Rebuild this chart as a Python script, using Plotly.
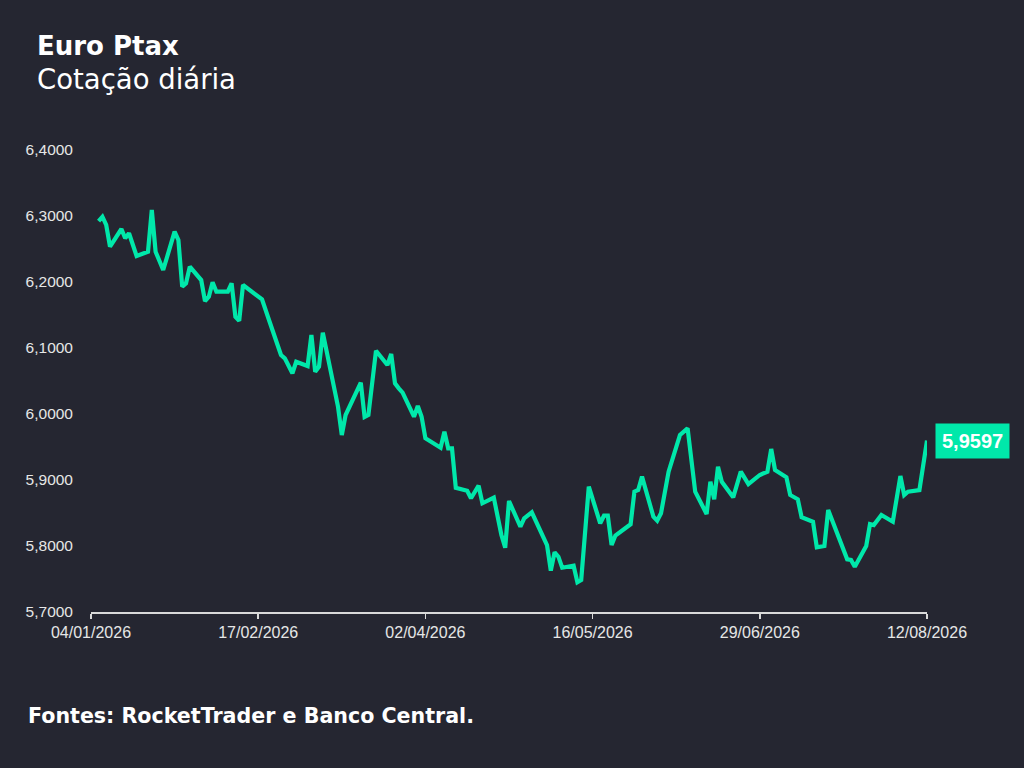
import plotly.graph_objects as go

dates = [
    "2026-01-06", "2026-01-07", "2026-01-08", "2026-01-09", "2026-01-12", "2026-01-13",
    "2026-01-14", "2026-01-16", "2026-01-19", "2026-01-20", "2026-01-21", "2026-01-23",
    "2026-01-26", "2026-01-27", "2026-01-28", "2026-01-29", "2026-01-30", "2026-02-02",
    "2026-02-03", "2026-02-04", "2026-02-05", "2026-02-06", "2026-02-09", "2026-02-10",
    "2026-02-11", "2026-02-12", "2026-02-13", "2026-02-18", "2026-02-20", "2026-02-23",
    "2026-02-24", "2026-02-26", "2026-02-27", "2026-03-02", "2026-03-03", "2026-03-04",
    "2026-03-05", "2026-03-06", "2026-03-10", "2026-03-11", "2026-03-12", "2026-03-16",
    "2026-03-17", "2026-03-18", "2026-03-20", "2026-03-23", "2026-03-24", "2026-03-25",
    "2026-03-26", "2026-03-27", "2026-03-30", "2026-03-31", "2026-04-01", "2026-04-02",
    "2026-04-06", "2026-04-07", "2026-04-08", "2026-04-09", "2026-04-10", "2026-04-13",
    "2026-04-14", "2026-04-16", "2026-04-17", "2026-04-20", "2026-04-22", "2026-04-23",
    "2026-04-24", "2026-04-27", "2026-04-28", "2026-04-30", "2026-05-04", "2026-05-05",
    "2026-05-06", "2026-05-07", "2026-05-08", "2026-05-11", "2026-05-12", "2026-05-13",
    "2026-05-15", "2026-05-18", "2026-05-19", "2026-05-20", "2026-05-21", "2026-05-22",
    "2026-05-26", "2026-05-27", "2026-05-28", "2026-05-29", "2026-06-01", "2026-06-02",
    "2026-06-03", "2026-06-05", "2026-06-08", "2026-06-10", "2026-06-12", "2026-06-15",
    "2026-06-16", "2026-06-17", "2026-06-18", "2026-06-19", "2026-06-22", "2026-06-24",
    "2026-06-26", "2026-06-29", "2026-07-01", "2026-07-02", "2026-07-03", "2026-07-06",
    "2026-07-07", "2026-07-09", "2026-07-10", "2026-07-13", "2026-07-14", "2026-07-16",
    "2026-07-17", "2026-07-22", "2026-07-23", "2026-07-24", "2026-07-27", "2026-07-28",
    "2026-07-29", "2026-07-31", "2026-08-03", "2026-08-05", "2026-08-06", "2026-08-07",
    "2026-08-10", "2026-08-12",
]

values = [
    6.2924, 6.2989, 6.2864, 6.2535, 6.2803, 6.2662,
    6.2738, 6.2394, 6.2459, 6.3091, 6.2459, 6.2182,
    6.2762, 6.2636, 6.1929, 6.1980, 6.2232, 6.2030,
    6.1712, 6.1777, 6.1995, 6.1853, 6.1853, 6.1980,
    6.1474, 6.1414, 6.1955, 6.1738, 6.1398, 6.0894,
    6.0844, 6.0617, 6.0792, 6.0727, 6.1197, 6.0641,
    6.0717, 6.1232, 6.0111, 5.9682, 5.9985, 6.0474,
    5.9955, 5.9985, 6.0959, 6.0742, 6.0909, 6.0465,
    6.0389, 6.0323, 5.9959, 6.0121, 5.9959, 5.9632,
    5.9489, 5.9732, 5.9480, 5.9480, 5.8883, 5.8838,
    5.8723, 5.8914, 5.8647, 5.8732, 5.8167, 5.7974,
    5.8682, 5.8292, 5.8420, 5.8511, 5.8015, 5.7626,
    5.7905, 5.7838, 5.7671, 5.7702, 5.7450, 5.7485,
    5.8898, 5.8344, 5.8459, 5.8459, 5.8015, 5.8159,
    5.8329, 5.8823, 5.8848, 5.9050, 5.8444, 5.8383,
    5.8495, 5.9126, 5.9682, 5.9783, 5.8823, 5.8485,
    5.8974, 5.8708, 5.9202, 5.8974, 5.8738, 5.9126,
    5.8939, 5.9076, 5.9126, 5.9470, 5.9152, 5.9041,
    5.8773, 5.8708, 5.8435, 5.8368, 5.7980, 5.8000,
    5.8545, 5.7798, 5.7788, 5.7686, 5.8000, 5.8333,
    5.8318, 5.8470, 5.8368, 5.9061, 5.8773, 5.8823,
    5.8848, 5.9597,
]

x_tick_dates = ["2026-01-04", "2026-02-17", "2026-04-02", "2026-05-16", "2026-06-29", "2026-08-12"]
x_tick_labels = ["04/01/2026", "17/02/2026", "02/04/2026", "16/05/2026", "29/06/2026", "12/08/2026"]
y_tick_values = [5.7, 5.8, 5.9, 6.0, 6.1, 6.2, 6.3, 6.4]

title_text = "Euro Ptax"
subtitle_text = "Cotação diária"
source_text = "Fontes: RocketTrader e Banco Central."

BG = "#252631"
GREEN = "#00E8AA"
TEXT = "#E6E6E6"
HEAD_FONT = "DejaVu Sans, Open Sans, sans-serif"

fig = go.Figure()
fig.add_trace(go.Scatter(
    x=dates, y=values, mode="lines",
    line=dict(color=GREEN, width=4.2),
    hoverinfo="skip",
))

last_label = f"{values[-1]:.4f}".replace(".", ",")

fig.update_layout(
    width=1024, height=768,
    paper_bgcolor=BG, plot_bgcolor=BG,
    margin=dict(l=91, r=97, t=150, b=156),
    showlegend=False,
    separators=",.",
    font=dict(family="Liberation Sans, Arial, sans-serif", color=TEXT),
    xaxis=dict(
        type="date",
        range=[x_tick_dates[0], x_tick_dates[-1]],
        tickvals=x_tick_dates, ticktext=x_tick_labels,
        showgrid=False, zeroline=False,
        showline=True, linecolor="#D9D9D9", linewidth=1.5,
        ticks="outside", ticklen=5, tickcolor="#D9D9D9", tickwidth=1.5,
        tickfont=dict(size=16, color=TEXT),
        fixedrange=True,
    ),
    yaxis=dict(
        range=[5.7, 6.4],
        tickvals=y_tick_values, tickformat=".4f",
        showgrid=False, zeroline=False, showline=False,
        ticks="", ticklabelstandoff=17,
        tickfont=dict(size=15.5, color=TEXT),
        fixedrange=True,
    ),
    annotations=[
        dict(text="<b>" + title_text + "</b>", xref="paper", yref="paper",
             x=-56 / 836, y=1 + 104 / 462, xanchor="left", yanchor="middle",
             showarrow=False, font=dict(family=HEAD_FONT, size=26, color="#FFFFFF")),
        dict(text=subtitle_text, xref="paper", yref="paper",
             x=-56 / 836, y=1 + 71 / 462, xanchor="left", yanchor="middle",
             showarrow=False, font=dict(family=HEAD_FONT, size=27.5, color="#FFFFFF")),
        dict(text="<b>" + source_text + "</b>", xref="paper", yref="paper",
             x=-65 / 836, y=-104 / 462, xanchor="left", yanchor="middle",
             showarrow=False, font=dict(family=HEAD_FONT, size=20.6, color="#FFFFFF")),
        dict(text="<b>" + last_label + "</b>", x=dates[-1], y=values[-1],
             xref="x", yref="y", xanchor="left", yanchor="middle",
             xshift=8, showarrow=False, bgcolor=GREEN, borderpad=6,
             font=dict(family="Liberation Sans, Arial, sans-serif", size=20, color="#FFFFFF")),
    ],
)

fig.write_html(
    "out.html",
    config={"displayModeBar": False, "staticPlot": True},
    post_script="document.body.style.margin='0';document.body.style.background='#252631';",
)
